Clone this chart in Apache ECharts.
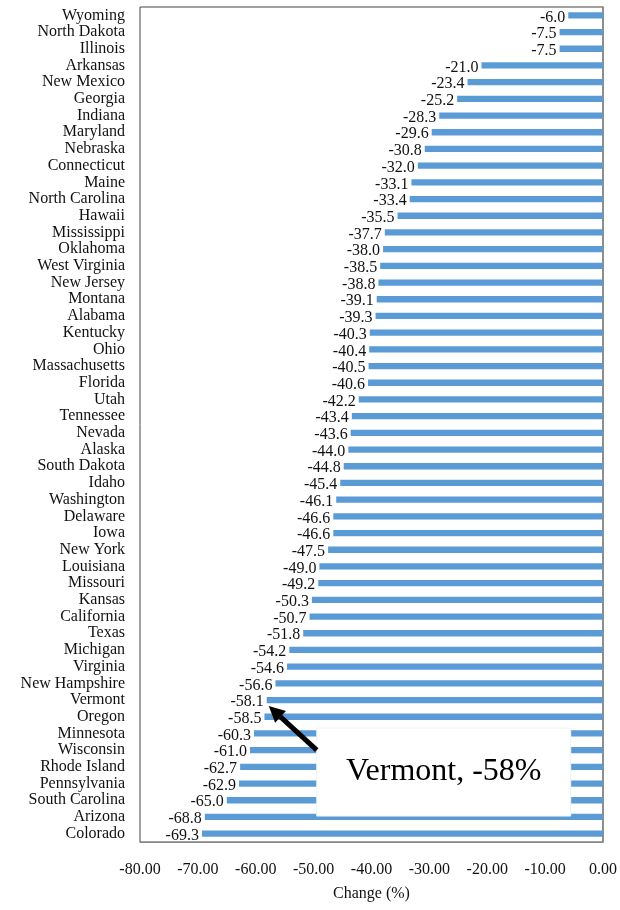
<!DOCTYPE html>
<html>
<head>
<meta charset="utf-8">
<script src="https://cdn.jsdelivr.net/npm/echarts/dist/echarts.min.js"></script>
<style>
  html, body { margin: 0; padding: 0; background: #fff; }
  #barChart { width: 620px; height: 910px; }
</style>
</head>
<body>
<div id="barChart"></div>
<script>
// states, top to bottom
const states = ['Wyoming', 'North Dakota', 'Illinois', 'Arkansas', 'New Mexico', 'Georgia', 'Indiana',
  'Maryland', 'Nebraska', 'Connecticut', 'Maine', 'North Carolina', 'Hawaii', 'Mississippi', 'Oklahoma',
  'West Virginia', 'New Jersey', 'Montana', 'Alabama', 'Kentucky', 'Ohio', 'Massachusetts', 'Florida',
  'Utah', 'Tennessee', 'Nevada', 'Alaska', 'South Dakota', 'Idaho', 'Washington', 'Delaware', 'Iowa',
  'New York', 'Louisiana', 'Missouri', 'Kansas', 'California', 'Texas', 'Michigan', 'Virginia',
  'New Hampshire', 'Vermont', 'Oregon', 'Minnesota', 'Wisconsin', 'Rhode Island', 'Pennsylvania',
  'South Carolina', 'Arizona', 'Colorado']
const change = [-6.0, -7.5, -7.5, -21.0, -23.4, -25.2, -28.3,
  -29.6, -30.8, -32.0, -33.1, -33.4, -35.5, -37.7, -38.0,
  -38.5, -38.8, -39.1, -39.3, -40.3, -40.4, -40.5, -40.6,
  -42.2, -43.4, -43.6, -44.0, -44.8, -45.4, -46.1, -46.6, -46.6,
  -47.5, -49.0, -49.2, -50.3, -50.7, -51.8, -54.2, -54.6,
  -56.6, -58.1, -58.5, -60.3, -61.0, -62.7, -62.9,
  -65.0, -68.8, -69.3]
const xTicks = [-80, -70, -60, -50, -40, -30, -20, -10, 0]
const callout = { state: 'Vermont', text: 'Vermont, -58%' }

const serif = '"Liberation Serif", "DejaVu Serif", serif'
let chart

const initChart = () => {
  chart = echarts.init(document.getElementById('barChart'), null, { renderer: 'canvas' })
  setOptions()
  addCallout()
}

const setOptions = () => {
  chart.setOption({
    animation: false,
    grid: {
      left: 140, right: 15, top: 7, bottom: 68,
      show: true, borderColor: '#444', borderWidth: 1
    },
    xAxis: {
      type: 'value',
      min: xTicks[0],
      max: xTicks[xTicks.length - 1],
      interval: 10,
      name: 'Change (%)',
      nameLocation: 'middle',
      nameGap: 44,
      nameTextStyle: { fontFamily: serif, fontSize: 16, color: '#111' },
      axisLine: { show: true, lineStyle: { color: '#888' } },
      axisTick: { show: false },
      splitLine: { show: false },
      axisLabel: {
        margin: 20,
        fontFamily: serif, fontSize: 16, color: '#111',
        formatter: v => v.toFixed(2)
      }
    },
    yAxis: {
      type: 'category',
      data: states,
      inverse: true,
      axisLine: { show: true, lineStyle: { color: '#888', width: 1.5 } },
      axisTick: { show: false },
      axisLabel: {
        margin: 15, interval: 0,
        fontFamily: serif, fontSize: 16, color: '#111'
      }
    },
    series: [{
      type: 'bar',
      data: change,
      barWidth: '38%',
      itemStyle: { color: '#5b9bd5' },
      label: {
        show: true,
        position: 'left',
        distance: 3,
        offset: [0, 2],
        fontFamily: serif, fontSize: 16, color: '#111',
        formatter: p => p.value.toFixed(1)
      }
    }]
  })
}

// white box with arrow pointing at Vermont's bar
const addCallout = () => {
  const i = states.indexOf(callout.state)
  const tip = chart.convertToPixel({ gridIndex: 0 }, [change[i], callout.state])
  const tx = tip[0] + 2, ty = tip[1] + 6
  const bx = tx + 48, by = ty + 22
  const bw = 254, bh = 88
  // direction of arrow
  const sx = bx, sy = by + 22
  const ang = Math.atan2(ty - sy, tx - sx)
  const hl = 16, hw = 8
  const baseX = tx - hl * Math.cos(ang), baseY = ty - hl * Math.sin(ang)
  const px = -Math.sin(ang) * hw, py = Math.cos(ang) * hw
  chart.setOption({
    graphic: [
      {
        type: 'rect', z: 100,
        shape: { x: bx, y: by, width: bw, height: bh },
        style: { fill: '#fff', stroke: '#eef2f6', lineWidth: 1 }
      },
      {
        type: 'text', z: 101,
        x: bx + bw / 2, y: by + bh / 2,
        style: {
          text: callout.text, fontFamily: serif, fontSize: 32, fill: '#000',
          align: 'center', verticalAlign: 'middle'
        }
      },
      {
        type: 'line', z: 101,
        shape: { x1: sx, y1: sy, x2: baseX, y2: baseY },
        style: { stroke: '#000', lineWidth: 5 }
      },
      {
        type: 'polygon', z: 101,
        shape: { points: [[tx, ty], [baseX + px, baseY + py], [baseX - px, baseY - py]] },
        style: { fill: '#000' }
      }
    ]
  })
}

initChart()
window.onresize = () => { chart.resize() }
</script>
</body>
</html>
